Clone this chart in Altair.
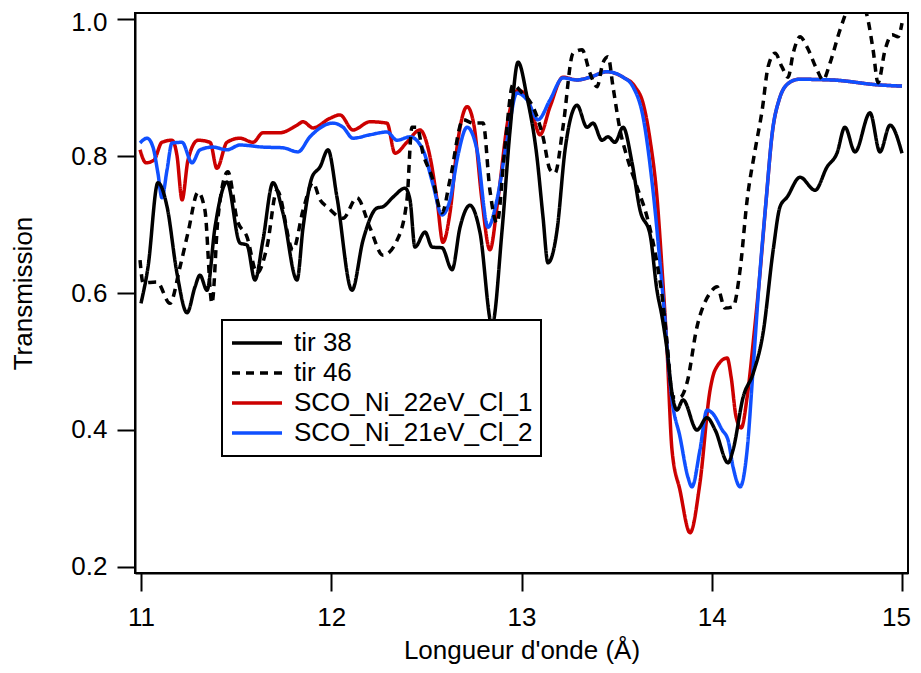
import altair as alt
import pandas as pd

SERIES = ["tir 38", "tir 46", "SCO_Ni_22eV_Cl_1", "SCO_Ni_21eV_Cl_2"]
COLORS = ["#000000", "#000000", "#CC0000", "#1050FF"]
DASHES = [[1, 0], [8, 6], [1, 0], [1, 0]]
DRAW_ORDER = ["SCO_Ni_22eV_Cl_1", "SCO_Ni_21eV_Cl_2", "tir 46", "tir 38"]

X_TICKS = [11, 12, 13, 14, 15]
Y_TICKS = [0.2, 0.4, 0.6, 0.8, 1.0]

TIR38_X = [11.000, 11.037, 11.089, 11.137, 11.189, 11.242, 11.284, 11.310, 11.347, 11.389,
           11.452, 11.520, 11.557, 11.599, 11.641, 11.694, 11.746, 11.820, 11.852, 11.899,
           11.941, 11.983, 12.030, 12.109, 12.167, 12.240, 12.272, 12.325, 12.388, 12.414,
           12.440, 12.493, 12.530, 12.582, 12.635, 12.677, 12.729, 12.782, 12.845, 12.898,
           12.940, 12.982, 13.029, 13.081, 13.113, 13.139, 13.187, 13.229, 13.292, 13.344,
           13.376, 13.423, 13.455, 13.491, 13.534, 13.581, 13.623, 13.676, 13.712, 13.739,
           13.765, 13.791, 13.817, 13.849, 13.922, 13.975, 14.018, 14.086, 14.112, 14.165,
           14.218, 14.270, 14.323, 14.359, 14.396, 14.464, 14.543, 14.606, 14.658, 14.700,
           14.753, 14.832, 14.884, 14.937, 15.000]
TIR38_Y = [0.585, 0.638, 0.761, 0.726, 0.629, 0.571, 0.609, 0.626, 0.604, 0.696,
           0.762, 0.673, 0.670, 0.619, 0.677, 0.761, 0.717, 0.619, 0.696, 0.769,
           0.784, 0.809, 0.740, 0.604, 0.677, 0.724, 0.726, 0.740, 0.753, 0.736,
           0.667, 0.689, 0.667, 0.666, 0.634, 0.696, 0.728, 0.688, 0.553, 0.692,
           0.838, 0.937, 0.886, 0.799, 0.711, 0.644, 0.692, 0.809, 0.874, 0.842,
           0.848, 0.823, 0.828, 0.820, 0.842, 0.790, 0.721, 0.685, 0.604, 0.565,
           0.517, 0.454, 0.429, 0.444, 0.400, 0.418, 0.400, 0.352, 0.371, 0.448,
           0.483, 0.542, 0.663, 0.726, 0.740, 0.769, 0.750, 0.784, 0.804, 0.842,
           0.806, 0.863, 0.806, 0.845, 0.804]

TIR46_X = [10.995, 11.011, 11.084, 11.152, 11.205, 11.247, 11.300, 11.336, 11.373, 11.405,
           11.457, 11.505, 11.557, 11.610, 11.662, 11.715, 11.799, 11.852, 11.904, 11.941,
           11.978, 12.062, 12.135, 12.204, 12.272, 12.346, 12.398, 12.424, 12.451, 12.482,
           12.530, 12.582, 12.624, 12.693, 12.745, 12.798, 12.834, 12.871, 12.913, 12.955,
           13.003, 13.060, 13.113, 13.150, 13.176, 13.218, 13.271, 13.318, 13.360, 13.397,
           13.428, 13.455, 13.481, 13.518, 13.554, 13.607, 13.660, 13.712, 13.744, 13.765,
           13.796, 13.833, 13.870, 13.922, 13.991, 14.028, 14.070, 14.112, 14.149, 14.186,
           14.228, 14.265, 14.296, 14.333, 14.369, 14.401, 14.428, 14.464, 14.501, 14.553,
           14.585, 14.622, 14.674, 14.727, 14.779, 14.821, 14.848, 14.874, 14.911, 14.948,
           14.979, 15.000]
TIR46_Y = [0.648, 0.615, 0.616, 0.585, 0.638, 0.688, 0.747, 0.721, 0.585, 0.711,
           0.777, 0.707, 0.682, 0.629, 0.667, 0.750, 0.663, 0.721, 0.761, 0.736,
           0.726, 0.709, 0.739, 0.695, 0.655, 0.677, 0.736, 0.842, 0.842, 0.804,
           0.769, 0.717, 0.765, 0.853, 0.848, 0.848, 0.750, 0.702, 0.813, 0.904,
           0.892, 0.872, 0.828, 0.780, 0.775, 0.842, 0.950, 0.955, 0.921, 0.901,
           0.936, 0.945, 0.901, 0.838, 0.799, 0.755, 0.711, 0.644, 0.585, 0.527,
           0.448, 0.448, 0.469, 0.550, 0.600, 0.609, 0.578, 0.580, 0.634, 0.736,
           0.809, 0.867, 0.930, 0.950, 0.930, 0.915, 0.950, 0.974, 0.959, 0.926,
           0.911, 0.936, 0.984, 1.020, 1.028, 0.999, 0.955, 0.907, 0.955, 0.977,
           0.974, 0.994]

RED_X = [10.995, 11.026, 11.068, 11.110, 11.163, 11.189, 11.216, 11.247, 11.300, 11.363,
         11.399, 11.452, 11.520, 11.589, 11.641, 11.731, 11.820, 11.852, 11.904, 11.993,
         12.046, 12.114, 12.204, 12.293, 12.335, 12.398, 12.466, 12.519, 12.556, 12.587,
         12.624, 12.666, 12.714, 12.750, 12.792, 12.834, 12.876, 12.929, 12.982, 13.029,
         13.066, 13.097, 13.150, 13.218, 13.292, 13.360, 13.449, 13.534, 13.597, 13.639,
         13.676, 13.712, 13.739, 13.765, 13.791, 13.833, 13.886, 13.938, 13.991, 14.018,
         14.081, 14.102, 14.128, 14.155, 14.186, 14.223, 14.249, 14.286, 14.318, 14.354,
         14.407, 14.459, 14.632, 14.869, 15.000]
RED_Y = [0.809, 0.790, 0.794, 0.820, 0.823, 0.801, 0.736, 0.794, 0.823, 0.820,
         0.782, 0.820, 0.826, 0.820, 0.834, 0.834, 0.845, 0.850, 0.841, 0.855,
         0.860, 0.838, 0.850, 0.848, 0.804, 0.820, 0.838, 0.799, 0.736, 0.674,
         0.717, 0.823, 0.872, 0.845, 0.736, 0.663, 0.736, 0.853, 0.896, 0.886,
         0.853, 0.831, 0.872, 0.915, 0.911, 0.915, 0.923, 0.915, 0.901, 0.877,
         0.823, 0.740, 0.634, 0.517, 0.371, 0.312, 0.250, 0.323, 0.458, 0.488,
         0.505, 0.477, 0.419, 0.403, 0.448, 0.542, 0.615, 0.736, 0.833, 0.882,
         0.907, 0.912, 0.911, 0.904, 0.902]

BLUE_X = [10.995, 11.032, 11.063, 11.089, 11.110, 11.137, 11.163, 11.216, 11.268, 11.310,
          11.378, 11.452, 11.520, 11.641, 11.746, 11.825, 11.888, 12.009, 12.062, 12.114,
          12.204, 12.293, 12.346, 12.414, 12.482, 12.535, 12.582, 12.624, 12.666, 12.714,
          12.766, 12.824, 12.871, 12.924, 12.976, 13.029, 13.087, 13.150, 13.218, 13.292,
          13.360, 13.449, 13.534, 13.586, 13.639, 13.691, 13.744, 13.791, 13.833, 13.875,
          13.896, 13.938, 13.975, 14.002, 14.055, 14.086, 14.112, 14.149, 14.186, 14.218,
          14.249, 14.286, 14.318, 14.354, 14.407, 14.459, 14.632, 14.869, 15.000]
BLUE_Y = [0.819, 0.826, 0.813, 0.775, 0.739, 0.780, 0.819, 0.820, 0.790, 0.809,
          0.813, 0.809, 0.816, 0.813, 0.812, 0.806, 0.828, 0.848, 0.842, 0.826,
          0.831, 0.835, 0.823, 0.828, 0.809, 0.758, 0.714, 0.736, 0.801, 0.842,
          0.809, 0.696, 0.736, 0.823, 0.892, 0.882, 0.853, 0.882, 0.914, 0.911,
          0.915, 0.923, 0.915, 0.901, 0.857, 0.750, 0.594, 0.444, 0.390, 0.331,
          0.317, 0.371, 0.429, 0.425, 0.400, 0.385, 0.346, 0.317, 0.371, 0.492,
          0.615, 0.736, 0.834, 0.882, 0.907, 0.912, 0.911, 0.904, 0.902]

rows = []
for name, xs, ys in [("tir 38", TIR38_X, TIR38_Y), ("tir 46", TIR46_X, TIR46_Y),
                     ("SCO_Ni_22eV_Cl_1", RED_X, RED_Y), ("SCO_Ni_21eV_Cl_2", BLUE_X, BLUE_Y)]:
    assert len(xs) == len(ys), name
    for x, y in zip(xs, ys):
        rows.append({"series": name, "wl": x, "T": y})
df = pd.DataFrame(rows)

FONT = "Liberation Sans"

legend = alt.Legend(
    title=None, orient="none", legendX=87, legendY=307, direction="vertical",
    symbolType="stroke", symbolSize=2500, symbolStrokeWidth=3.5, clipHeight=30,
    rowPadding=0, padding=8, labelOffset=10, labelFontSize=26, labelFont=FONT,
    labelColor="black", labelLimit=600, fillColor="white", strokeColor="black",
)

x_enc = alt.X("wl:Q",
              scale=alt.Scale(domain=[10.9685, 15.0315], nice=False, zero=False),
              axis=alt.Axis(values=X_TICKS, format="d", title="Longueur d'onde (Å)",
                            titleY=64, titleBaseline="top", labelPadding=13,
                            labelOffset={"condition": {"test": "datum.value == 15", "value": -6},
                                         "value": 0}))
y_enc = alt.Y("T:Q",
              scale=alt.Scale(domain=[0.19124, 1.00876], nice=False, zero=False),
              axis=alt.Axis(values=Y_TICKS, format=".1f", title="Transmission",
                            titleX=-112, titleY=280, titleBaseline="middle",
                            titleAlign="center", labelPadding=10,
                            labelOffset={"condition": {"test": "datum.value == 1", "value": 3},
                                         "value": 0}))
color_enc = alt.Color("series:N", scale=alt.Scale(domain=SERIES, range=COLORS), legend=legend)
dash_enc = alt.StrokeDash("series:N", scale=alt.Scale(domain=SERIES, range=DASHES), legend=legend)

base = alt.Chart(df).mark_line(strokeWidth=3.5, interpolate="monotone", clip=True).encode(
    x=x_enc, y=y_enc, color=color_enc, strokeDash=dash_enc
)

layers = [base.transform_filter(alt.datum.series == name) for name in DRAW_ORDER]

chart = alt.layer(*layers).properties(
    width=773, height=560,
    autosize=alt.AutoSizeParams(type="none"),
    padding={"left": 127, "top": 5, "right": 5, "bottom": 92},
).configure(font=FONT).configure_view(
    stroke="black", strokeWidth=2
).configure_axis(
    grid=False, domainColor="black", domainWidth=2, tickColor="black", tickWidth=2,
    tickSize=18, labelFontSize=26, titleFontSize=26, titleFontWeight="normal",
    labelColor="black", titleColor="black", labelFont=FONT, titleFont=FONT,
).configure_legend(strokeWidth=2)

chart.save("out.html", embed_options={"renderer": "svg", "actions": False})
